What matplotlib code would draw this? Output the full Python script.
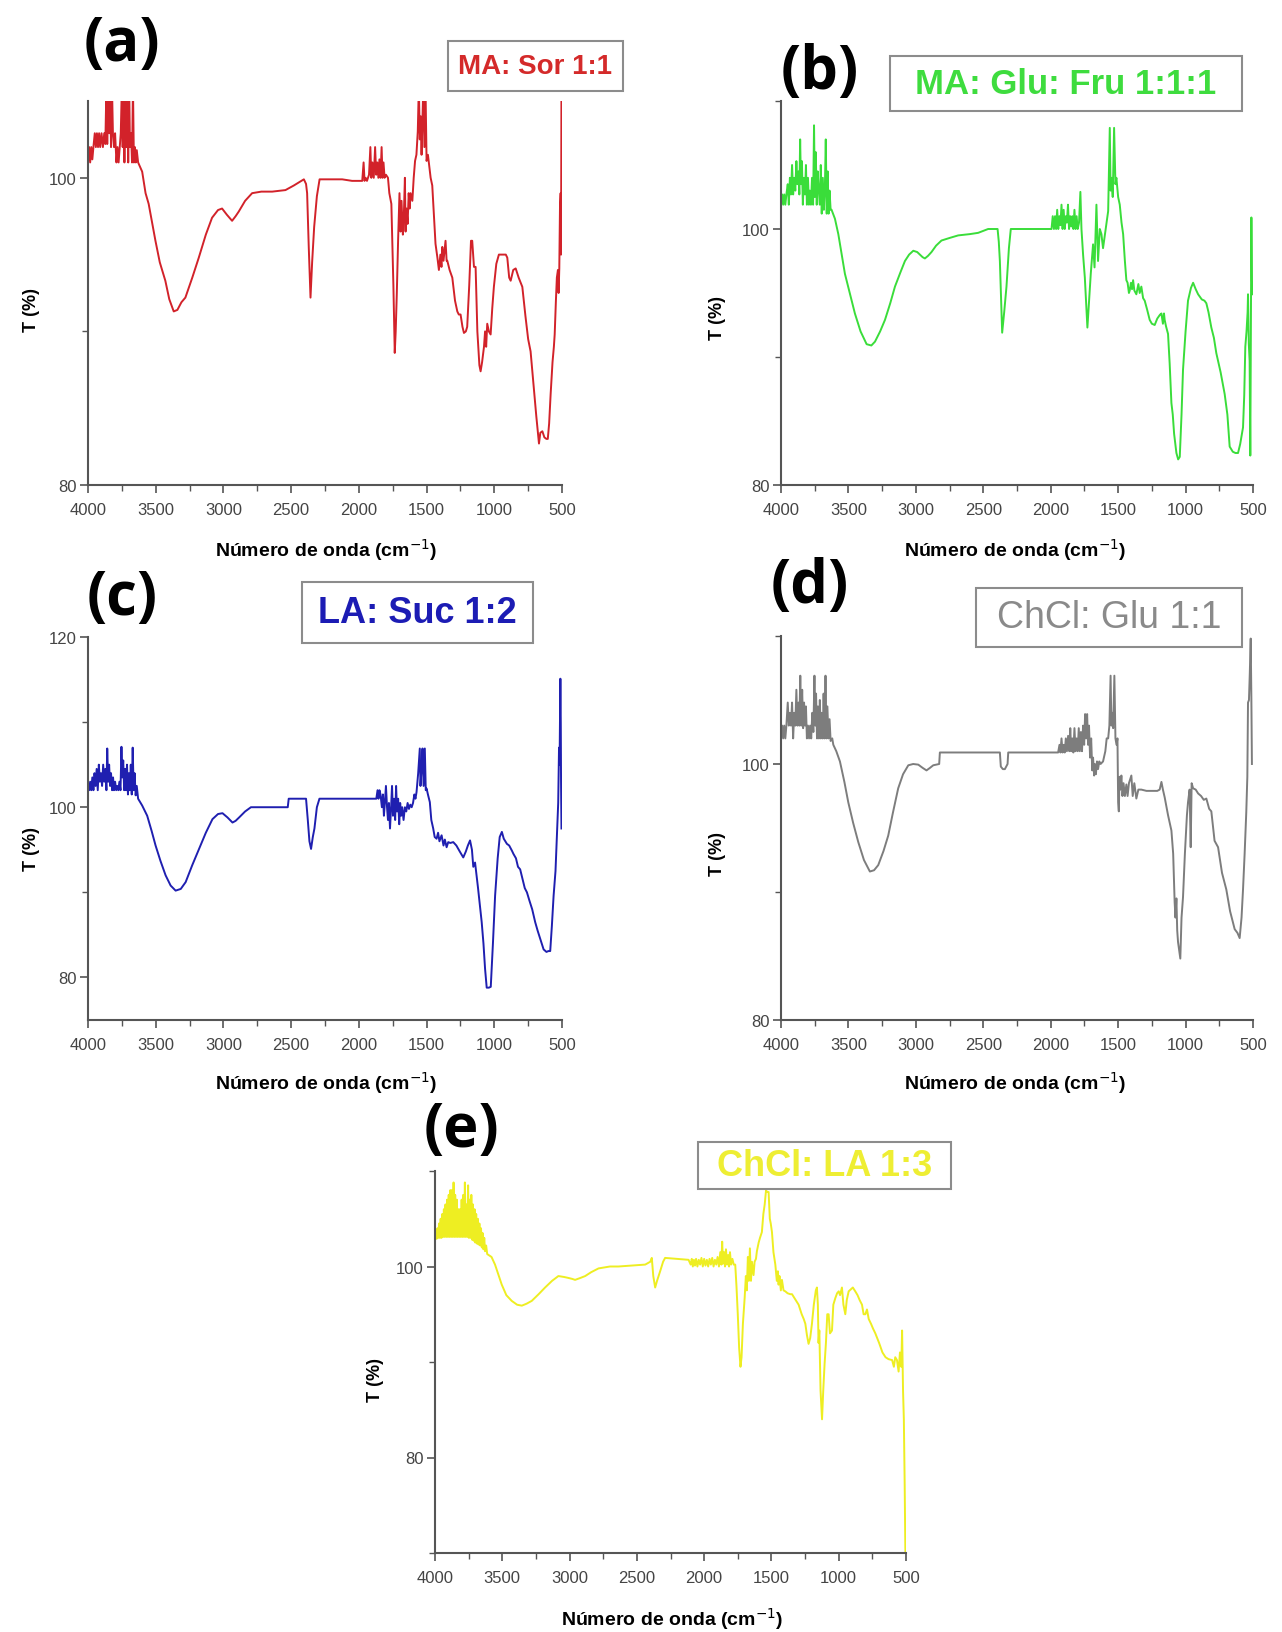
import matplotlib
matplotlib.use("Agg")
import matplotlib.pyplot as plt
from matplotlib.patches import Rectangle
from matplotlib.ticker import MultipleLocator

W, H = 1282, 1633

# FTIR spectra: (wavenumber cm-1, T %)
spec_a = [
    (4000, 101.0), (3992, 102.0), (3984, 101.0), (3976, 102.0), (3968, 101.2), (3960, 102.0), (3950, 102.9),
    (3942, 102.0), (3934, 102.9), (3926, 102.0), (3918, 102.9), (3910, 102.0), (3900, 102.9), (3890, 102.0),
    (3880, 102.9), (3872, 102.2), (3864, 106), (3858, 102.2), (3850, 106), (3843, 102.9), (3836, 106),
    (3830, 102.0), (3823, 106), (3816, 102.9), (3808, 102.0), (3800, 102.9), (3790, 101.0), (3782, 102.0),
    (3774, 101.0), (3766, 102.0), (3758, 102.9), (3750, 106), (3744, 102.0), (3738, 106), (3731, 101.0),
    (3724, 106), (3717, 102.0), (3710, 106), (3703, 101.0), (3696, 106), (3690, 102.0), (3682, 102.9),
    (3675, 101.0), (3668, 106), (3661, 101.0), (3654, 102.0), (3647, 101.0), (3640, 101.8), (3630, 101.0),
    (3600, 100.4), (3575, 99.0), (3552, 98.3), (3525, 97.0), (3502, 95.9), (3470, 94.5), (3429, 93.3),
    (3400, 92.1), (3367, 91.3), (3340, 91.4), (3310, 91.9), (3281, 92.2), (3230, 93.5), (3182, 94.8),
    (3130, 96.3), (3084, 97.4), (3040, 97.9), (3010, 98.0), (2975, 97.6), (2936, 97.2), (2910, 97.5),
    (2887, 97.8), (2840, 98.5), (2788, 99.0), (2720, 99.1), (2640, 99.1), (2542, 99.2), (2480, 99.5),
    (2406, 99.9), (2390, 99.6), (2382, 99.0), (2370, 95.5), (2357, 92.2), (2345, 94.5), (2330, 96.8),
    (2310, 98.8), (2290, 99.9), (2200, 99.9), (2123, 99.9), (2050, 99.8), (1990, 99.8), (1975, 99.8),
    (1965, 101.0), (1958, 99.8), (1950, 100.0), (1940, 99.8), (1925, 100.2), (1915, 102.0), (1908, 100.0),
    (1900, 101.0), (1890, 100.0), (1880, 102.0), (1872, 100.2), (1864, 101.0), (1856, 100.0), (1848, 101.2),
    (1840, 100.0), (1832, 102.0), (1825, 100.0), (1818, 101.0), (1810, 100.0), (1800, 100.2), (1785, 100.0),
    (1775, 99.0), (1760, 98.3), (1745, 93.0), (1735, 88.6), (1728, 90.0), (1720, 92.4), (1710, 96.0),
    (1700, 99.0), (1692, 96.5), (1685, 98.5), (1675, 96.3), (1668, 97.5), (1660, 100.0), (1655, 96.5),
    (1648, 98.0), (1640, 97.0), (1632, 99.0), (1625, 98.0), (1618, 99.0), (1605, 98.5), (1595, 100.0),
    (1585, 101.1), (1575, 101.5), (1565, 103.0), (1557, 106), (1550, 102.5), (1543, 104.0), (1537, 101.5),
    (1532, 103.3), (1524, 106), (1516, 102.0), (1508, 106), (1500, 101.1), (1490, 101.5), (1470, 100.0),
    (1458, 99.5), (1445, 97.5), (1434, 95.7), (1420, 94.8), (1409, 94.0), (1398, 95.0), (1390, 94.2),
    (1384, 95.5), (1375, 94.6), (1360, 95.9), (1352, 94.6), (1347, 94.6), (1330, 94.0), (1310, 93.5),
    (1290, 92.0), (1273, 91.3), (1262, 91.1), (1249, 91.1), (1235, 90.3), (1224, 89.9), (1210, 90.0),
    (1200, 90.3), (1185, 93.0), (1172, 95.9), (1163, 95.9), (1150, 94.2), (1138, 94.2), (1125, 90.0),
    (1110, 87.8), (1101, 87.4), (1090, 88.0), (1076, 89.0), (1068, 90.0), (1060, 89.0), (1052, 90.5),
    (1040, 90.0), (1027, 89.8), (1015, 91.5), (1003, 92.9), (985, 94.4), (966, 95.0), (940, 95.0),
    (915, 95.0), (904, 94.8), (890, 93.5), (879, 93.3), (860, 94.0), (842, 94.1), (820, 93.5), (793, 92.9),
    (770, 91.0), (750, 89.5), (732, 88.7), (710, 86.5), (690, 84.5), (670, 82.7), (660, 83.4), (645, 83.5),
    (630, 83.1), (615, 83.0), (605, 83.0), (595, 84.0), (584, 85.9), (570, 88.0), (560, 89.0), (554, 89.8),
    (545, 92.0), (538, 93.5), (530, 94.0), (525, 92.5), (520, 94.1), (515, 98.0), (510, 99.0), (507, 95.0),
    (504, 106),
]

spec_b = [
    (4000, 101.9), (3992, 102.7), (3984, 101.9), (3976, 102.7), (3968, 101.9), (3960, 102.7), (3950, 103.5),
    (3942, 101.9), (3934, 104.0), (3926, 102.7), (3918, 105.0), (3910, 102.7), (3902, 104.0), (3894, 103.0),
    (3886, 105.3), (3878, 103.5), (3870, 104.5), (3864, 102.7), (3858, 107.0), (3852, 103.5), (3845, 105.3),
    (3838, 101.9), (3830, 104.0), (3822, 102.7), (3815, 105.0), (3808, 101.9), (3800, 104.0), (3793, 101.9),
    (3786, 103.0), (3778, 101.9), (3770, 104.0), (3762, 101.9), (3755, 108.1), (3749, 102.5), (3742, 106.0),
    (3735, 101.9), (3728, 104.5), (3720, 103.0), (3712, 101.9), (3705, 105.0), (3698, 101.2), (3690, 104.0),
    (3682, 101.5), (3675, 103.0), (3668, 107.0), (3661, 101.2), (3654, 104.5), (3647, 101.2), (3640, 103.0),
    (3632, 101.5), (3625, 101.5), (3600, 100.8), (3575, 99.6), (3550, 98.0), (3526, 96.5), (3490, 95.0),
    (3452, 93.4), (3410, 92.0), (3365, 91.0), (3330, 90.9), (3303, 91.2), (3265, 92.0), (3229, 92.9),
    (3190, 94.2), (3155, 95.5), (3115, 96.6), (3081, 97.5), (3050, 98.0), (3019, 98.3), (2990, 98.2),
    (2970, 98.0), (2950, 97.8), (2933, 97.7), (2910, 97.9), (2884, 98.2), (2850, 98.7), (2810, 99.1),
    (2750, 99.3), (2686, 99.5), (2600, 99.6), (2538, 99.7), (2490, 99.9), (2464, 100.0), (2394, 100.0),
    (2385, 99.0), (2377, 97.5), (2368, 94.5), (2360, 91.9), (2345, 93.5), (2328, 95.5), (2310, 98.5),
    (2296, 100.0), (2150, 100.0), (1994, 100.0), (1985, 101.0), (1976, 100.0), (1968, 101.0), (1960, 100.0),
    (1952, 101.5), (1944, 100.0), (1936, 101.0), (1928, 100.3), (1920, 101.9), (1912, 100.0), (1904, 101.5),
    (1896, 100.0), (1888, 101.0), (1880, 100.5), (1872, 101.9), (1864, 100.0), (1856, 101.0), (1848, 100.2),
    (1840, 101.0), (1832, 100.0), (1824, 101.5), (1816, 100.0), (1808, 101.0), (1800, 100.0), (1790, 100.5),
    (1780, 102.9), (1772, 100.0), (1760, 98.0), (1747, 96.2), (1728, 92.3), (1715, 94.5), (1703, 96.5),
    (1686, 98.8), (1675, 97.0), (1661, 101.9), (1649, 97.5), (1636, 100.0), (1624, 99.6), (1612, 98.5),
    (1600, 99.4), (1585, 100.5), (1574, 101.4), (1562, 107.9), (1556, 103.0), (1550, 104.0), (1540, 102.5),
    (1530, 107.9), (1520, 103.5), (1513, 104.0), (1500, 102.5), (1488, 101.9), (1475, 100.5), (1463, 99.6),
    (1450, 97.5), (1439, 96.0), (1430, 95.8), (1420, 95.0), (1414, 95.2), (1405, 95.8), (1397, 95.3),
    (1389, 96.0), (1380, 95.2), (1365, 94.9), (1350, 95.7), (1340, 95.0), (1328, 95.5), (1315, 94.6),
    (1303, 94.4), (1285, 93.7), (1266, 92.9), (1250, 92.6), (1229, 92.5), (1210, 93.0), (1190, 93.3),
    (1179, 93.4), (1168, 92.6), (1160, 93.4), (1155, 92.9), (1145, 92.4), (1130, 91.8), (1118, 89.5),
    (1105, 86.4), (1095, 85.5), (1085, 84.0), (1068, 82.5), (1055, 82.0), (1043, 82.2), (1030, 85.5),
    (1019, 89.0), (1000, 92.0), (982, 94.4), (960, 95.4), (944, 95.8), (925, 95.3), (907, 94.9),
    (880, 94.5), (860, 94.4), (846, 94.2), (830, 93.5), (809, 92.3), (790, 91.5), (772, 90.3), (740, 88.8),
    (710, 87.1), (690, 85.5), (673, 83.0), (650, 82.6), (630, 82.5), (611, 82.5), (595, 83.2), (574, 84.5),
    (565, 87.0), (557, 90.8), (548, 92.0), (540, 93.5), (537, 94.9), (531, 91.0), (525, 89.7), (520, 82.3),
    (516, 92.0), (512, 100.9), (508, 96.0), (505, 94.9),
]

spec_c = [
    (4000, 102.0), (3992, 102.0), (3984, 103.0), (3976, 102.0), (3968, 103.5), (3960, 102.0), (3952, 104.0),
    (3944, 102.5), (3936, 104.5), (3928, 102.0), (3920, 105.0), (3912, 103.0), (3904, 104.0), (3896, 102.5),
    (3888, 105.0), (3880, 103.0), (3872, 104.5), (3864, 102.0), (3858, 106.9), (3851, 103.0), (3844, 105.0),
    (3837, 102.5), (3830, 104.0), (3822, 102.0), (3815, 103.5), (3808, 102.0), (3800, 103.0), (3792, 102.0),
    (3784, 102.5), (3776, 102.0), (3768, 103.0), (3760, 102.0), (3753, 107.1), (3747, 103.5), (3740, 105.5),
    (3733, 102.0), (3726, 104.5), (3719, 102.0), (3712, 105.0), (3705, 101.5), (3698, 104.0), (3691, 102.0),
    (3684, 105.0), (3677, 101.5), (3670, 107.0), (3663, 102.0), (3656, 104.0), (3648, 101.4), (3640, 102.5),
    (3630, 101.0), (3600, 100.2), (3563, 99.0), (3530, 97.2), (3501, 95.5), (3465, 93.7), (3427, 92.0),
    (3390, 90.8), (3353, 90.2), (3315, 90.4), (3279, 91.2), (3230, 93.2), (3180, 95.1), (3130, 97.0),
    (3081, 98.6), (3040, 99.2), (3007, 99.3), (2970, 98.8), (2933, 98.2), (2910, 98.4), (2884, 98.8),
    (2840, 99.5), (2797, 100.0), (2525, 100.0), (2518, 101.0), (2390, 101.0), (2377, 98.5), (2365, 96.0),
    (2353, 95.1), (2340, 96.5), (2328, 97.5), (2310, 100.0), (2291, 101.0), (1871, 101.0), (1862, 102.0),
    (1855, 101.0), (1848, 102.0), (1840, 101.5), (1830, 100.0), (1822, 101.5), (1815, 99.0), (1808, 100.5),
    (1800, 102.5), (1792, 100.0), (1785, 98.5), (1778, 100.5), (1770, 97.5), (1762, 100.0), (1755, 102.5),
    (1748, 99.0), (1740, 101.0), (1732, 98.5), (1725, 102.5), (1718, 99.5), (1710, 101.0), (1702, 98.0),
    (1695, 100.5), (1688, 99.0), (1680, 100.0), (1670, 98.5), (1660, 100.0), (1650, 99.5), (1640, 100.5),
    (1630, 99.8), (1620, 100.3), (1610, 100.0), (1600, 100.5), (1590, 101.5), (1582, 101.0), (1574, 101.8),
    (1562, 104.0), (1550, 106.9), (1545, 102.5), (1537, 104.5), (1530, 106.9), (1522, 102.5), (1513, 106.9),
    (1506, 102.0), (1500, 102.2), (1490, 101.5), (1476, 100.6), (1465, 98.5), (1451, 97.5), (1440, 96.5),
    (1426, 96.3), (1415, 97.0), (1405, 96.0), (1389, 96.7), (1375, 95.5), (1365, 96.2), (1352, 95.3),
    (1340, 95.9), (1325, 95.8), (1303, 95.9), (1280, 95.5), (1255, 94.8), (1229, 94.1), (1210, 94.8),
    (1195, 95.5), (1179, 96.1), (1165, 95.0), (1155, 93.0), (1142, 93.5), (1120, 90.5), (1093, 86.5),
    (1080, 84.0), (1068, 81.0), (1056, 78.8), (1040, 78.8), (1026, 78.9), (1010, 84.0), (994, 89.6),
    (975, 94.0), (960, 96.5), (944, 97.1), (930, 96.3), (907, 95.7), (890, 95.5), (870, 94.9), (858, 94.5),
    (840, 94.0), (825, 93.0), (809, 92.7), (790, 91.5), (775, 90.5), (759, 90.0), (740, 89.0), (720, 88.0),
    (698, 86.5), (680, 85.5), (660, 84.5), (636, 83.3), (615, 83.0), (600, 83.1), (587, 83.1), (575, 86.0),
    (562, 89.6), (555, 91.0), (548, 92.5), (542, 94.9), (535, 97.5), (528, 100.5), (522, 107.0),
    (518, 105.0), (515, 110.5), (512, 115.1), (509, 110.0), (507, 103.0), (504, 97.5),
]

spec_d = [
    (4000, 102.0), (3992, 103.0), (3984, 102.0), (3976, 103.0), (3968, 102.0), (3960, 103.0), (3950, 104.8),
    (3942, 103.0), (3934, 104.0), (3926, 103.0), (3918, 104.8), (3910, 102.0), (3902, 104.0), (3894, 103.0),
    (3886, 105.8), (3878, 103.0), (3870, 104.8), (3864, 103.0), (3857, 106.9), (3850, 103.0), (3843, 105.8),
    (3836, 102.8), (3829, 104.8), (3822, 103.0), (3815, 104.5), (3808, 102.0), (3800, 103.0), (3792, 102.0),
    (3784, 103.0), (3776, 102.0), (3768, 104.0), (3760, 102.5), (3752, 106.9), (3746, 103.0), (3740, 105.5),
    (3733, 102.0), (3726, 104.5), (3719, 102.0), (3712, 105.0), (3705, 102.0), (3698, 104.0), (3691, 102.0),
    (3684, 105.5), (3677, 102.0), (3670, 106.9), (3663, 102.0), (3656, 104.5), (3648, 102.0), (3640, 103.5),
    (3632, 101.8), (3620, 102.0), (3612, 101.5), (3590, 101.0), (3563, 100.2), (3530, 98.6), (3501, 97.0),
    (3465, 95.4), (3427, 93.9), (3385, 92.5), (3341, 91.6), (3310, 91.7), (3279, 92.1), (3240, 93.2),
    (3205, 94.4), (3170, 96.2), (3131, 98.1), (3095, 99.2), (3056, 99.9), (3020, 100.0), (2982, 99.95),
    (2950, 99.7), (2921, 99.5), (2895, 99.7), (2871, 99.9), (2827, 100.0), (2822, 100.9), (2377, 100.9),
    (2370, 99.8), (2355, 99.6), (2340, 99.6), (2320, 100.0), (2315, 100.9), (1945, 100.9), (1935, 101.5),
    (1928, 100.9), (1920, 102.0), (1912, 100.9), (1904, 101.5), (1896, 100.9), (1888, 102.0), (1880, 101.0),
    (1871, 102.2), (1862, 101.0), (1855, 102.8), (1848, 101.0), (1840, 102.0), (1832, 100.9), (1824, 102.8),
    (1816, 101.0), (1808, 102.0), (1800, 101.0), (1792, 102.8), (1784, 101.0), (1776, 102.5), (1768, 101.0),
    (1760, 103.0), (1752, 101.5), (1745, 103.9), (1738, 102.0), (1730, 103.9), (1723, 101.5), (1716, 103.0),
    (1708, 100.5), (1700, 102.0), (1692, 99.5), (1686, 100.5), (1678, 99.1), (1673, 100.0), (1665, 99.2),
    (1657, 100.2), (1649, 99.6), (1640, 100.2), (1630, 100.0), (1612, 100.2), (1595, 101.0), (1585, 102.0),
    (1574, 102.0), (1565, 103.0), (1556, 106.9), (1550, 103.0), (1543, 104.0), (1537, 102.8), (1528, 106.9),
    (1520, 102.0), (1512, 101.5), (1505, 102.0), (1500, 97.0), (1495, 96.3), (1490, 99.0), (1484, 98.0),
    (1476, 99.1), (1468, 97.5), (1460, 98.5), (1450, 97.5), (1439, 98.4), (1430, 97.5), (1420, 98.5),
    (1402, 99.1), (1392, 97.5), (1380, 98.5), (1365, 97.3), (1350, 98.0), (1328, 98.0), (1290, 97.9),
    (1250, 97.9), (1210, 97.9), (1192, 98.0), (1179, 98.6), (1168, 98.0), (1155, 97.4), (1130, 96.0),
    (1105, 94.8), (1092, 93.0), (1081, 89.2), (1075, 88.0), (1068, 89.5), (1062, 87.0), (1056, 86.1),
    (1048, 85.5), (1039, 84.8), (1030, 88.0), (1019, 89.6), (1005, 93.0), (990, 96.0), (982, 97.0),
    (970, 98.0), (962, 93.5), (955, 98.5), (944, 98.1), (925, 98.0), (907, 97.7), (885, 97.5), (865, 97.2),
    (846, 97.3), (825, 96.5), (809, 96.3), (785, 94.0), (759, 93.5), (730, 91.5), (698, 90.2), (670, 88.5),
    (636, 87.1), (615, 86.8), (599, 86.4), (585, 88.0), (574, 90.2), (562, 93.0), (550, 96.2), (542, 99.0),
    (537, 104.8), (530, 105.0), (524, 107.0), (517, 109.8), (512, 105.0), (508, 100.0),
]

spec_e = [
    (4000, 102.9), (3994, 103.5), (3988, 102.9), (3982, 104.0), (3976, 103.0), (3970, 104.5), (3964, 103.0),
    (3958, 105.0), (3952, 103.0), (3946, 105.5), (3940, 103.1), (3934, 106.0), (3928, 103.1), (3922, 106.5),
    (3916, 103.1), (3910, 107.0), (3904, 103.1), (3898, 107.5), (3892, 103.1), (3886, 108.0), (3880, 103.1),
    (3874, 108.0), (3868, 103.1), (3862, 108.8), (3856, 103.1), (3850, 107.5), (3844, 103.1), (3838, 107.0),
    (3832, 103.1), (3826, 106.0), (3820, 103.1), (3814, 106.0), (3808, 103.1), (3802, 107.0), (3796, 103.1),
    (3790, 107.5), (3784, 103.1), (3778, 108.8), (3772, 103.1), (3766, 106.5), (3760, 103.1), (3754, 108.5),
    (3748, 103.0), (3742, 107.0), (3736, 103.0), (3730, 107.5), (3724, 102.8), (3718, 106.5), (3712, 102.7),
    (3706, 106.0), (3700, 102.5), (3694, 105.5), (3688, 102.4), (3682, 105.0), (3676, 102.3), (3670, 104.5),
    (3664, 102.2), (3658, 104.0), (3652, 102.0), (3646, 103.5), (3640, 101.8), (3634, 103.0), (3628, 101.6),
    (3620, 102.2), (3612, 101.3), (3580, 101.0), (3554, 100.2), (3530, 99.2), (3504, 98.1), (3470, 97.0),
    (3430, 96.4), (3390, 96.0), (3355, 95.9), (3320, 96.1), (3281, 96.4), (3230, 97.1), (3182, 97.8),
    (3130, 98.5), (3083, 99.0), (3040, 98.9), (3008, 98.8), (2980, 98.7), (2959, 98.6), (2920, 98.8),
    (2884, 99.0), (2840, 99.4), (2785, 99.8), (2700, 100.0), (2637, 100.0), (2540, 100.1), (2438, 100.2),
    (2400, 100.5), (2389, 100.9), (2378, 99.0), (2364, 97.8), (2350, 98.5), (2327, 99.5), (2305, 100.5),
    (2290, 100.9), (2200, 100.8), (2116, 100.7), (2100, 100.2), (2092, 100.8), (2084, 100.0), (2076, 100.7),
    (2068, 100.1), (2060, 100.8), (2050, 100.0), (2040, 100.7), (2030, 100.2), (2020, 100.9), (2010, 100.0),
    (2000, 100.8), (1990, 100.1), (1980, 100.7), (1970, 100.0), (1960, 100.8), (1950, 100.2), (1940, 100.9),
    (1930, 100.0), (1920, 100.7), (1910, 100.2), (1900, 101.0), (1890, 100.0), (1880, 101.5), (1872, 100.2),
    (1866, 102.6), (1860, 100.3), (1852, 101.5), (1845, 100.0), (1838, 101.8), (1830, 100.2), (1822, 101.2),
    (1815, 100.0), (1808, 101.5), (1800, 100.2), (1790, 100.8), (1780, 100.2), (1769, 100.2), (1760, 98.0),
    (1750, 95.0), (1740, 91.5), (1730, 89.5), (1722, 90.5), (1712, 94.0), (1699, 96.7), (1690, 99.0),
    (1683, 97.5), (1675, 101.0), (1668, 98.5), (1660, 101.9), (1652, 98.5), (1645, 100.5), (1633, 99.1),
    (1625, 100.5), (1615, 100.8), (1608, 101.6), (1595, 102.5), (1585, 103.0), (1571, 103.6), (1560, 105.5),
    (1550, 106.5), (1540, 108.0), (1533, 107.8), (1521, 107.8), (1512, 105.0), (1505, 104.5), (1496, 103.6),
    (1485, 101.5), (1471, 100.2), (1460, 98.5), (1452, 99.5), (1447, 98.1), (1440, 99.0), (1430, 97.5),
    (1422, 98.6), (1410, 97.5), (1397, 97.4), (1380, 97.2), (1360, 97.1), (1347, 97.1), (1320, 96.5),
    (1298, 96.0), (1275, 95.0), (1260, 94.5), (1248, 94.0), (1236, 92.8), (1224, 91.9), (1212, 92.5),
    (1199, 94.0), (1185, 96.0), (1170, 97.5), (1162, 97.8), (1155, 96.0), (1150, 92.0), (1144, 93.3),
    (1135, 87.0), (1124, 84.0), (1115, 87.0), (1105, 89.8), (1095, 92.0), (1085, 95.0), (1075, 95.0),
    (1065, 93.0), (1050, 93.3), (1040, 96.0), (1025, 96.7), (1012, 97.2), (1000, 97.4), (990, 97.0),
    (976, 97.8), (965, 96.0), (951, 95.0), (940, 96.5), (926, 97.4), (910, 97.6), (895, 97.8), (877, 97.4),
    (860, 97.0), (845, 96.5), (827, 96.0), (815, 95.0), (802, 95.0), (790, 95.5), (777, 94.5), (760, 94.0),
    (745, 93.5), (728, 93.0), (700, 92.0), (675, 91.0), (652, 90.5), (630, 90.3), (603, 90.2), (590, 89.5),
    (580, 90.5), (567, 90.2), (555, 89.0), (545, 91.0), (535, 89.5), (529, 93.3), (525, 90.0), (522, 87.0),
    (516, 84.0), (510, 77.4), (505, 70.5), (502, 69.0),
]

spectra = [spec_a, spec_b, spec_c, spec_d, spec_e]
names = ["MA: Sor 1:1", "MA: Glu: Fru 1:1:1", "LA: Suc 1:2", "ChCl: Glu 1:1", "ChCl: LA 1:3"]
letters = ["(a)", "(b)", "(c)", "(d)", "(e)"]
ylims = [(80, 105), (80, 110), (75, 120), (80, 110), (70, 110)]
line_colors = ["#d2222a", "#3add3a", "#1f1fb0", "#7d7d7d", "#eeee22"]
text_colors = ["#d42a2a", "#3edc3e", "#1c1cb4", "#8a8a8a", "#eeee33"]

# layout in pixels: axes box (left, top, right, bottom)
axes_px = [(88, 102, 562, 486), (781, 102, 1253, 486), (88, 638, 562, 1021),
           (781, 637, 1253, 1021), (435, 1172, 906, 1554)]
letter_px = [(122, 45), (820, 73), (122, 599), (810, 588), (462, 1132)]
box_px = [(448, 42, 623, 92), (890, 57, 1242, 112), (302, 583, 533, 644),
          (976, 589, 1242, 648), (698, 1143, 951, 1190)]
box_fs = [20, 25, 26, 27, 26]
box_weight = ["bold", "bold", "bold", "normal", "bold"]
ylab_px = [(31, 310), (718, 318), (31, 849), (718, 854), (375, 1380)]
xlab_px = [(326, 550), (1015, 550), (326, 1083), (1015, 1083), (672, 1619)]

fig = plt.figure(figsize=(W / 100, H / 100), dpi=100)
fig.patch.set_facecolor("white")
sans = ["Liberation Sans", "DejaVu Sans"]
axis_gray = "#555555"

for i in range(5):
    l, t, r, b = axes_px[i]
    ax = fig.add_axes([l / W, 1 - b / H, (r - l) / W, (b - t) / H])
    wn = [p[0] for p in spectra[i]]
    tr = [p[1] for p in spectra[i]]
    ax.plot(wn, tr, color=line_colors[i], lw=1.4)
    ax.set_xlim(4000, 500)
    ax.set_ylim(*ylims[i])
    ax.xaxis.set_major_locator(MultipleLocator(500))
    ax.xaxis.set_minor_locator(MultipleLocator(250))
    ax.yaxis.set_major_locator(MultipleLocator(20))
    ax.yaxis.set_minor_locator(MultipleLocator(10))
    for s in ["top", "right"]:
        ax.spines[s].set_visible(False)
    for s in ["left", "bottom"]:
        ax.spines[s].set_color(axis_gray)
        ax.spines[s].set_linewidth(1.5)
    ax.tick_params(which="major", direction="out", length=6, width=1.2, color=axis_gray,
                   labelsize=12, labelcolor="#444444")
    ax.tick_params(which="minor", direction="out", length=4, width=1.0, color=axis_gray)
    ax.tick_params(axis="x", which="major", pad=6)
    ax.tick_params(axis="y", which="major", pad=2)
    for lab in ax.get_xticklabels() + ax.get_yticklabels():
        lab.set_family(sans)

    # panel letter
    fig.text(letter_px[i][0] / W, 1 - letter_px[i][1] / H, letters[i], fontsize=43,
             fontweight="bold", family=["Open Sans", "DejaVu Sans"], ha="center", va="center")

    # sample label box
    bl, bt, br, bb = box_px[i]
    fig.patches.append(Rectangle((bl / W, 1 - bb / H), (br - bl) / W, (bb - bt) / H,
                                 transform=fig.transFigure, fill=False,
                                 edgecolor="#8c8c8c", lw=1.5))
    fig.text((bl + br) / 2 / W, 1 - (bt + bb) / 2 / H, names[i], fontsize=box_fs[i],
             fontweight=box_weight[i], color=text_colors[i], family=sans,
             ha="center", va="center")

    fig.text(ylab_px[i][0] / W, 1 - ylab_px[i][1] / H, "T (%)", rotation=90, fontsize=13,
             fontweight="bold", family=sans, ha="center", va="center")
    fig.text(xlab_px[i][0] / W, 1 - xlab_px[i][1] / H, "Número de onda (cm$^{-1}$)",
             fontsize=14, fontweight="bold", family=sans, ha="center", va="center")

fig.savefig("out.png", dpi=100)
